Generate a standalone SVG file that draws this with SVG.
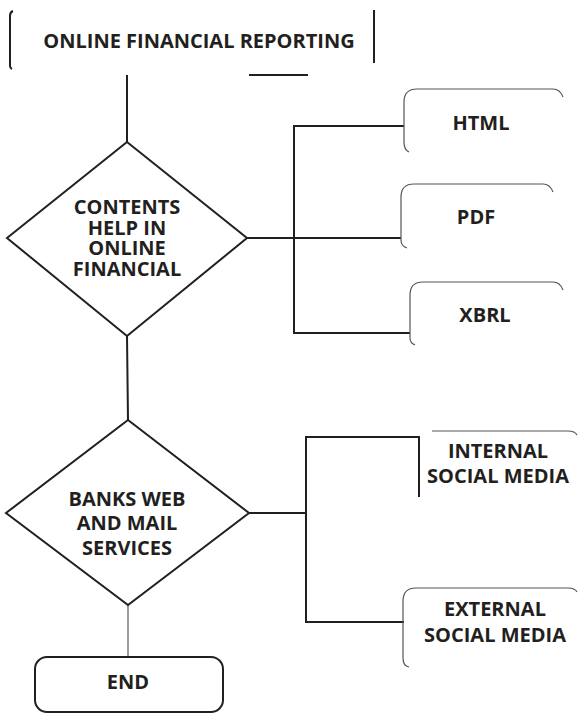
<svg xmlns="http://www.w3.org/2000/svg" width="578" height="714" viewBox="0 0 578 714">
  <style>
    .bg { fill: #ffffff; }
    .wire { fill: none; stroke: #231f20; stroke-width: 2; stroke-linecap: square; }
    .wire-soft { fill: none; stroke: #9a9a9a; stroke-width: 2; }
    .shape { fill: #ffffff; stroke: #231f20; stroke-width: 2; stroke-linejoin: miter; }
    .edge { fill: none; stroke: #231f20; stroke-width: 2; }
    .edge-thin { fill: none; stroke: #555555; stroke-width: 1.2; }
    .label { font-family: "Open Sans", "Liberation Sans", sans-serif; font-weight: bold; font-size: 20px; fill: #231f20; text-anchor: middle; }
  </style>

  <rect class="bg" x="0" y="0" width="578" height="714"/>

  <!-- connectors -->
  <g id="connectors">
    <line class="wire" x1="127" y1="76" x2="127" y2="142"/>
    <line class="wire" x1="127" y1="336" x2="128" y2="420"/>
    <line class="wire-soft" x1="128" y1="605" x2="128" y2="657"/>
    <!-- format bracket -->
    <polyline class="wire" points="403,126 294,126 294,333 409,333"/>
    <line class="wire" x1="247" y1="238" x2="400" y2="238"/>
    <!-- social media bracket -->
    <polyline class="wire" points="419,437 306,437 306,622 403,622"/>
    <line class="wire" x1="249" y1="513" x2="306" y2="513"/>
  </g>

  <!-- start box -->
  <g id="node-start">
    <path class="edge" d="M13,11 Q10,12 10,16 L10,66 Q10,68 12,69"/>
    <line class="edge" x1="374" y1="10" x2="374" y2="63"/>
    <line class="edge" x1="249" y1="75" x2="308" y2="75"/>
    <text class="label" x="199" y="48">ONLINE FINANCIAL REPORTING</text>
  </g>

  <!-- first decision -->
  <g id="node-contents">
    <polygon class="shape" points="127,142 247,238 127,336 7,238"/>
    <text class="label" x="127" y="214">CONTENTS</text>
    <text class="label" x="127" y="235">HELP IN</text>
    <text class="label" x="127" y="255">ONLINE</text>
    <text class="label" x="127" y="276">FINANCIAL</text>
  </g>

  <g id="node-html">
    <path class="edge-thin" d="M417,89 L553,89 Q560,89 563,97"/>
    <path class="edge-thin" d="M417,89 Q404,89 404,102 L404,142 Q404,150 409,152"/>
    <text class="label" x="481" y="130">HTML</text>
  </g>

  <g id="node-pdf">
    <path class="edge-thin" d="M414,184 L543,184 Q550,184 553,192"/>
    <path class="edge-thin" d="M414,184 Q401,184 401,197 L401,240 Q401,246 407,248"/>
    <text class="label" x="476" y="224">PDF</text>
  </g>

  <g id="node-xbrl">
    <path class="edge-thin" d="M423,282 L553,282 Q560,282 563,290"/>
    <path class="edge-thin" d="M423,282 Q410,282 410,295 L410,338 Q410,343 415,345"/>
    <text class="label" x="485" y="322">XBRL</text>
  </g>

  <!-- second decision -->
  <g id="node-banks">
    <polygon class="shape" points="128,420 249,513 128,605 6,513"/>
    <text class="label" x="127" y="506">BANKS WEB</text>
    <text class="label" x="127" y="530">AND MAIL</text>
    <text class="label" x="127" y="555">SERVICES</text>
  </g>

  <g id="node-internal">
    <path class="edge-thin" d="M432,431 L568,431 Q575,431 577,435"/>
    <line class="edge" x1="419" y1="437" x2="419" y2="497"/>
    <text class="label" x="498" y="458">INTERNAL</text>
    <text class="label" x="498" y="483">SOCIAL MEDIA</text>
  </g>

  <g id="node-external">
    <path class="edge-thin" d="M416,588 L568,588 Q575,588 577,592"/>
    <path class="edge-thin" d="M416,588 Q403,588 403,601 L403,658 Q403,666 409,667"/>
    <text class="label" x="495" y="616">EXTERNAL</text>
    <text class="label" x="495" y="642">SOCIAL MEDIA</text>
  </g>

  <!-- end box -->
  <g id="node-end">
    <rect class="shape" x="35" y="657" width="188" height="55" rx="12" ry="12"/>
    <text class="label" x="128" y="689">END</text>
  </g>
</svg>
